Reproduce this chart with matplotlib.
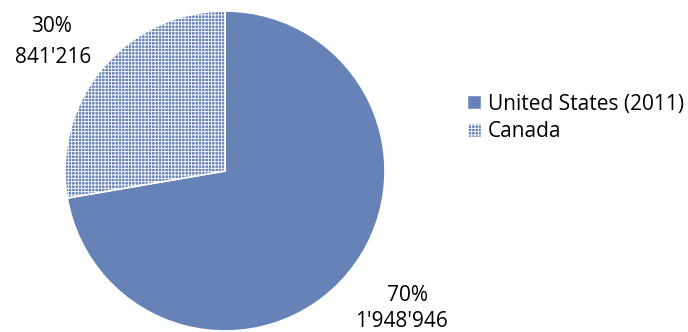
import matplotlib
matplotlib.use("Agg")
import matplotlib.pyplot as plt
from matplotlib.patches import Patch

labels = ["United States (2011)", "Canada"]
values = [1948946, 841216]
shares = [72.3, 27.7]   # slice sizes as drawn in the picture
pct_text = ["70%", "30%"]
num_text = ["1'948'946", "841'216"]

BLUE = "#6682b6"
W, H = 688, 332
plt.rcParams['font.family'] = ['Open Sans', 'DejaVu Sans']
plt.rcParams['hatch.linewidth'] = 0.6

fig = plt.figure(figsize=(W / 100, H / 100), dpi=100)
cx, cy, r = 225, 171, 160
ax = fig.add_axes([(cx - r) / W, (H - cy - r) / H, 2 * r / W, 2 * r / H])
wedges, _ = ax.pie(shares, startangle=90, counterclock=False, colors=[BLUE, BLUE],
                   wedgeprops=dict(edgecolor="white", linewidth=1.2))
wedges[1].set_hatch("+++++")
ax.set_xlim(-1, 1)
ax.set_ylim(-1, 1)
ax.set_aspect("equal")
ax.axis("off")

def px_text(x, y, s):
    fig.text(x / W, 1 - y / H, s, ha="center", va="baseline", fontsize=15)

# data labels (pixel baselines)
px_text(407, 301, pct_text[0])
px_text(401, 327, num_text[0])
px_text(52, 32, pct_text[1])
px_text(53, 63, num_text[1])

handles = [Patch(facecolor=BLUE, edgecolor="white"),
           Patch(facecolor=BLUE, edgecolor="white", hatch="+++++")]
fig.legend(handles, labels, loc="center left", bbox_to_anchor=(467 / W, 1 - 118 / H),
           frameon=False, fontsize=15, handlelength=0.65, handleheight=0.65,
           handletextpad=0.35, labelspacing=0.32, borderpad=0, borderaxespad=0)

fig.savefig("out.png", dpi=100)
